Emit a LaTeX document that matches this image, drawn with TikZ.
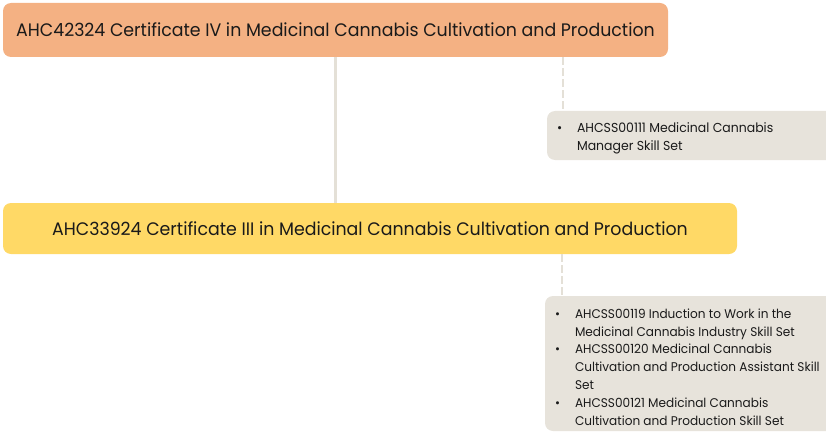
\documentclass[tikz,border=0pt]{standalone}
\usepackage{fontspec}
\setmainfont[FakeStretch=0.96]{Poppins}
\definecolor{orangebox}{HTML}{F4B183}
\definecolor{yellowbox}{HTML}{FFD966}
\definecolor{graybox}{HTML}{E7E3DB}
\definecolor{linegray}{HTML}{E4E0D7}
\definecolor{txt}{HTML}{1A1A1A}
\tikzset{
  certbox/.style={rounded corners=8pt, inner sep=0pt, text=txt, font={\fontsize{18.1}{21}\selectfont}},
  skillbox/.style={rounded corners=8pt, fill=graybox, inner sep=0pt},
  skilltext/.style={inner xsep=0pt, inner ysep=0pt, align=left, text=txt, font={\fontsize{13}{17.8}\selectfont}},
  solidlink/.style={draw=linegray, line width=3pt},
  dashlink/.style={draw=linegray, line width=2.5pt, dash pattern=on 8pt off 3pt},
}
\newcommand{\bul}{\makebox[20pt][l]{\textbullet}}
\newcommand{\cont}{\hspace*{20pt}}
\begin{document}
\begin{tikzpicture}[x=1pt,y=1pt]
\useasboundingbox (0,0) rectangle (826,-433);
\clip (0,0) rectangle (826,-433);
\node[certbox, fill=orangebox, minimum width=665pt, minimum height=54pt] (top) at (335.5,-30)
  {AHC42324 Certificate IV in Medicinal Cannabis Cultivation and Production};
\node[certbox, fill=yellowbox, minimum width=734pt, minimum height=51pt] (mid) at (370,-228.5)
  {AHC33924 Certificate III in Medicinal Cannabis Cultivation and Production};
\node[skillbox, minimum width=289pt, minimum height=49pt] (g1) at (691.5,-135.5) {};
\node[skilltext, anchor=west] (g1t) at ([xshift=10pt,yshift=-2.5pt]g1.west)
  {\bul AHCSS00111 Medicinal Cannabis\\ \cont Manager Skill Set};
\node[skillbox, minimum width=291pt, minimum height=135pt] (g2) at (690.5,-363.5) {};
\node[skilltext, anchor=west, font={\fontsize{12.6}{17.8}\selectfont}] (g2t) at ([xshift=10pt,yshift=-3.5pt]g2.west)
  {\bul AHCSS00119 Induction to Work in the\\
   \cont Medicinal Cannabis Industry Skill Set\\
   \bul AHCSS00120 Medicinal Cannabis\\
   \cont Cultivation and Production Assistant Skill\\
   \cont Set\\
   \bul AHCSS00121 Medicinal Cannabis\\
   \cont Cultivation and Production Skill Set};
\coordinate (d1) at (563,0);
\coordinate (d2) at (562,0);
\coordinate (s1) at (335,0);
\draw[solidlink] (top.south -| s1) -- (mid.north -| s1);
\draw[dashlink] (top.south -| d1) -- (g1.north -| d1);
\draw[dashlink] (mid.south -| d2) -- (g2.north -| d2);
\end{tikzpicture}
\end{document}
